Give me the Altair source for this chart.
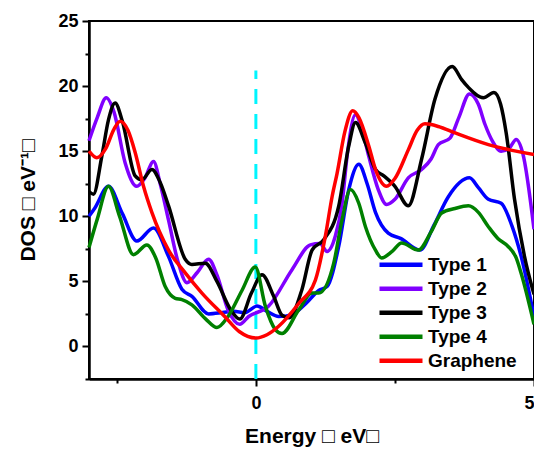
import altair as alt
import pandas as pd

# ---- data ----
type1_x = [-3.0, -2.9, -2.65, -2.4, -2.14, -1.84, -1.57, -1.33, -1.15, -0.85, -0.6, -0.4, -0.2, 0.02, 0.2, 0.41, 0.65, 0.9, 1.13, 1.28, 1.49, 1.67, 1.85, 2.0, 2.15, 2.38, 2.6, 2.95, 3.2, 3.46, 3.84, 4.0, 4.18, 4.41, 4.6, 4.77, 5.0]
type1_y = [10.0, 10.6, 12.3, 10.2, 8.1, 9.1, 6.9, 4.4, 3.85, 2.5, 2.6, 2.7, 2.6, 3.1, 2.7, 2.3, 2.45, 3.3, 4.3, 4.6, 7.7, 12.05, 14.0, 12.5, 10.3, 8.7, 8.3, 7.4, 9.3, 11.5, 12.95, 12.2, 11.3, 11.0, 9.3, 6.9, 2.3]

type2_x = [-3.0, -2.85, -2.69, -2.55, -2.35, -2.14, -2.0, -1.84, -1.72, -1.57, -1.4, -1.24, -1.05, -0.85, -0.7, -0.5, -0.29, -0.13, 0.23, 0.65, 0.98, 1.15, 1.28, 1.43, 1.55, 1.65, 1.79, 1.9, 2.03, 2.2, 2.35, 2.5, 2.74, 2.98, 3.15, 3.28, 3.49, 3.65, 3.84, 4.0, 4.12, 4.25, 4.41, 4.55, 4.68, 4.8, 5.0]
type2_y = [15.8, 17.6, 19.1, 18.0, 14.1, 12.3, 12.9, 14.2, 12.5, 9.7, 6.5, 4.9, 5.7, 6.7, 5.5, 2.8, 1.7, 2.3, 3.1, 5.9, 7.8, 7.9, 7.3, 8.5, 11.0, 15.0, 17.8, 16.8, 14.6, 12.05, 10.9, 11.3, 12.95, 13.6, 14.4, 15.5, 16.0, 17.6, 19.4, 18.6, 17.05, 15.8, 15.0, 15.2, 15.9, 14.8, 9.0]

type3_x = [-3.0, -2.92, -2.77, -2.65, -2.53, -2.4, -2.17, -2.05, -1.87, -1.72, -1.57, -1.27, -1.15, -0.91, -0.7, -0.45, -0.29, -0.08, 0.11, 0.32, 0.47, 0.6, 0.83, 1.01, 1.22, 1.49, 1.67, 1.79, 1.97, 2.15, 2.3, 2.5, 2.74, 2.98, 3.22, 3.53, 3.7, 3.82, 4.09, 4.28, 4.4, 4.5, 4.65, 4.83, 5.0]
type3_y = [11.9, 11.7, 14.6, 17.4, 18.7, 17.3, 13.1, 12.8, 13.6, 12.6, 10.8, 6.7, 6.3, 6.4, 5.0, 2.8, 2.1, 4.1, 5.5, 3.85, 2.4, 2.2, 4.4, 7.4, 8.2, 10.8, 15.4, 17.2, 15.6, 13.6, 13.1, 12.3, 10.8, 14.4, 19.0, 21.5, 20.5, 19.9, 19.1, 19.5, 18.6, 16.4, 11.3, 6.9, 4.0]

type4_x = [-3.0, -2.85, -2.65, -2.45, -2.2, -1.96, -1.8, -1.63, -1.45, -1.33, -1.15, -0.9, -0.7, -0.5, -0.25, -0.01, 0.17, 0.35, 0.47, 0.77, 1.01, 1.13, 1.4, 1.55, 1.7, 1.85, 1.97, 2.15, 2.26, 2.45, 2.62, 2.92, 3.15, 3.34, 3.58, 3.82, 4.0, 4.18, 4.35, 4.53, 4.68, 4.77, 5.0]
type4_y = [7.6, 9.8, 12.3, 10.0, 7.05, 7.8, 6.8, 4.6, 3.7, 3.6, 3.2, 2.1, 1.45, 2.3, 4.3, 6.1, 3.1, 1.3, 1.0, 2.8, 4.1, 4.1, 6.4, 9.75, 12.05, 11.0, 9.2, 7.4, 6.8, 7.3, 7.95, 7.4, 8.8, 10.25, 10.6, 10.8, 10.3, 9.2, 8.3, 7.7, 6.8, 5.6, 1.7]

graphene_x = [-3.0, -2.86, -2.7, -2.55, -2.44, -2.3, -2.17, -2.02, -1.87, -1.57, -1.27, -0.97, -0.56, -0.3, 0.0, 0.2, 0.41, 0.77, 1.07, 1.25, 1.37, 1.46, 1.6, 1.74, 1.85, 2.03, 2.15, 2.35, 2.5, 2.74, 2.9, 3.04, 3.28, 3.58, 4.18, 5.0]
graphene_y = [15.0, 14.5, 15.2, 16.7, 17.3, 16.6, 14.9, 12.3, 10.3, 7.4, 5.65, 4.1, 2.3, 1.15, 0.65, 0.9, 1.55, 3.3, 5.1, 8.5, 11.5, 13.3, 16.5, 18.1, 17.6, 15.4, 13.6, 12.3, 12.9, 15.1, 16.6, 17.1, 16.9, 16.4, 15.5, 14.75]

series_names = ["Type 1", "Type 2", "Type 3", "Type 4", "Graphene"]
series_colors = ["#0000FF", "#8000FF", "#000000", "#008000", "#FF0000"]

x_major = [0, 5]
x_minor = [-2.5, 2.5]
y_major = [0, 5, 10, 15, 20, 25]
y_minor = [-2.5, 2.5, 7.5, 12.5, 17.5, 22.5]
fermi_x = [0]
fermi_y = [-2.5]
fermi_y2 = [21.2]

rows = []
for name, xs, ys in zip(series_names,
                        [type1_x, type2_x, type3_x, type4_x, graphene_x],
                        [type1_y, type2_y, type3_y, type4_y, graphene_y]):
    for xv, yv in zip(xs, ys):
        rows.append({"series": name, "E": xv, "DOS": yv})
df = pd.DataFrame(rows)

vline = pd.DataFrame({"E": fermi_x, "y1": fermi_y, "y2": fermi_y2})

FONT = "Arial, Liberation Sans, sans-serif"
xscale = alt.Scale(domain=[-3, 5], nice=False, zero=False)
yscale = alt.Scale(domain=[-2.5, 25], nice=False, zero=False)

lines = alt.Chart(df).mark_line(strokeWidth=3.5, interpolate="monotone").encode(
    x=alt.X("E:Q", scale=xscale,
            axis=alt.Axis(values=x_major, title="Energy \u25a1 eV\u25a1", orient="bottom",
                          tickSize=7, tickWidth=2, labelPadding=8, titlePadding=13,
                          labelFlush=True, grid=False)),
    y=alt.Y("DOS:Q", scale=yscale,
            axis=alt.Axis(values=y_major, title="DOS \u25a1 eV\u207b\u00b9\u25a1", orient="left",
                          tickSize=7, tickWidth=2, labelPadding=4, titlePadding=19,
                          grid=False)),
    color=alt.Color("series:N",
                    scale=alt.Scale(domain=series_names, range=series_colors),
                    legend=alt.Legend(orient="none", legendX=288, legendY=233, title=None,
                                      symbolType="stroke", symbolStrokeWidth=4.5,
                                      symbolSize=1849, labelFontSize=19,
                                      labelFontWeight="bold", labelFont=FONT,
                                      labelColor="black", labelOffset=3, padding=0,
                                      clipHeight=21.5, rowPadding=2)),
    detail="series:N",
)

fermi = alt.Chart(vline).mark_rule(color="#00F5FF", strokeWidth=3, strokeDash=[15, 10]).encode(
    x=alt.X("E:Q", scale=xscale,
            axis=alt.Axis(values=x_minor, labels=False, title=None, orient="bottom",
                          tickSize=4, tickWidth=2, domain=False, grid=False)),
    y=alt.Y("y1:Q", scale=yscale,
            axis=alt.Axis(values=y_minor, labels=False, title=None, orient="left",
                          tickSize=4, tickWidth=2, domain=False, grid=False)),
    y2="y2:Q",
)

chart = alt.layer(fermi, lines).resolve_axis(x="independent", y="independent").properties(
    width=445, height=358, autosize="none",
    padding={"left": 81, "top": 13, "right": 0, "bottom": 70},
).configure_view(stroke="black", strokeWidth=2).configure_axis(
    domainColor="black", domainWidth=2.5, tickColor="black",
    labelFont=FONT, labelFontSize=18, labelFontWeight="bold", labelColor="black",
    titleFont=FONT, titleFontSize=21, titleFontWeight="bold", titleColor="black",
)

chart.save("out.html", embed_options={"renderer": "svg", "actions": False})
